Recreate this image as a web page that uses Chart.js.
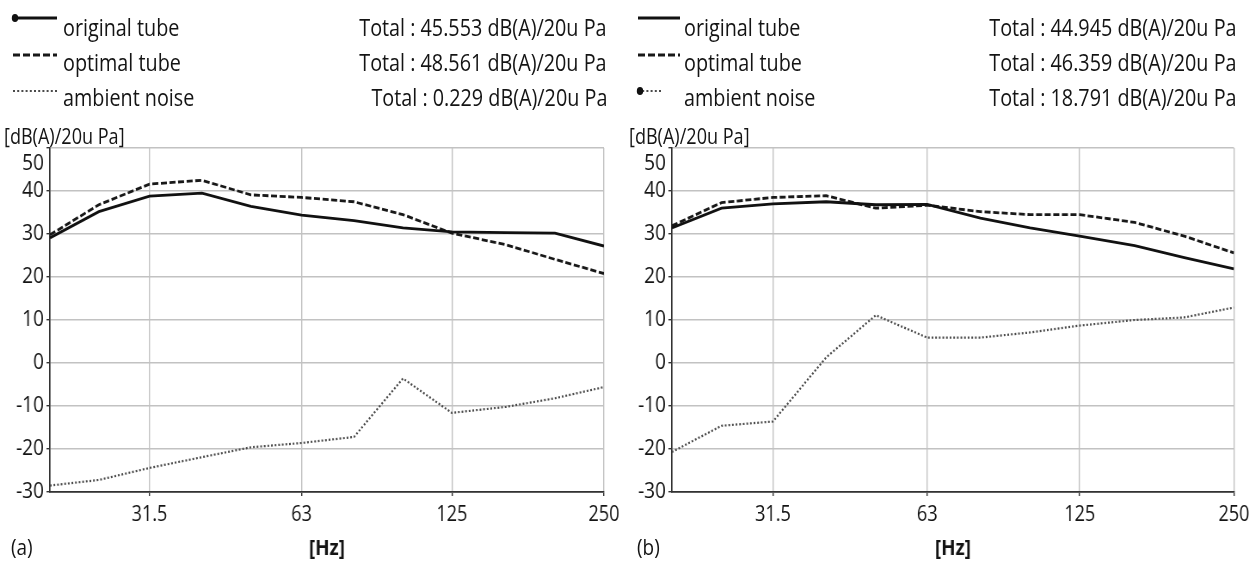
<!DOCTYPE html>
<html>
<head>
<meta charset="utf-8">
<script src="https://cdn.jsdelivr.net/npm/chart.js@4.4.1/dist/chart.umd.min.js"></script>
<style>
  body { margin: 0; background: #fff; }
  #page { position: relative; width: 1249px; height: 562px; overflow: hidden; font-family: "Open Sans", sans-serif; color: #141414; }
  canvas { position: absolute; top: 0; }
  /* the original figure is squeezed horizontally, so the text is too */
  .t { position: absolute; line-height: 28px; white-space: nowrap; transform: scaleX(0.86); transform-origin: left center; }
  .t.r { transform-origin: right center; }
  svg { position: absolute; overflow: visible; }
</style>
</head>
<body>
<div id="page">
  <!-- canvases are drawn wider than shown, the browser squeezes them by ~0.86 -->
  <canvas id="chartA" width="723" height="562" style="left:0;width:622px;height:562px"></canvas>
  <canvas id="chartB" width="729" height="562" style="left:622px;width:627px;height:562px"></canvas>
</div>
<script>
// 1/3 octave band centres [Hz]
const freqHz = [20, 25, 31.5, 40, 50, 63, 80, 100, 125, 160, 200, 250];
const xTickValues = [31.5, 63, 125, 250];
const xTickLabels = ['31.5', '63', '125', '250'];

const seriesNames = ['original tube', 'optimal tube', 'ambient noise'];
const totalsA = ['45.553', '48.561', '0.229'];
const totalsB = ['44.945', '46.359', '18.791'];
const unitText = 'dB(A)/20u Pa';

// panel (a)
const origA = [29.1, 35.2, 38.8, 39.5, 36.4, 34.4, 33.1, 31.4, 30.5, 30.3, 30.2, 27.2];
const optA  = [29.8, 36.8, 41.6, 42.5, 39.1, 38.5, 37.5, 34.5, 30.2, 27.5, 24.1, 20.8];
const ambA  = [-28.5, -27.2, -24.4, -21.9, -19.6, -18.6, -17.2, -3.6, -11.6, -10.2, -8.2, -5.6];

// panel (b)
const origB = [31.4, 36.0, 37.0, 37.5, 36.8, 36.9, 33.7, 31.4, 29.5, 27.3, 24.5, 21.9];
const optB  = [31.9, 37.3, 38.5, 38.9, 36.0, 36.7, 35.2, 34.5, 34.5, 32.7, 29.5, 25.6];
const ambB  = [-20.7, -14.6, -13.6, 1.3, 11.1, 5.9, 5.9, 7.1, 8.7, 10.0, 10.6, 12.9];

const lineStyles = [
  { color: '#111111', width: 2.8, dash: [] },
  { color: '#181818', width: 2.8, dash: [7, 3] },
  { color: '#4a4a4a', width: 2.2, dash: [2, 2.2] }
];

Chart.defaults.font.family = '"Open Sans", sans-serif';
Chart.defaults.color = '#141414';

function toPoints(vals) {
  return freqHz.map((f, i) => ({ x: f, y: vals[i] }));
}

// the top tick label sits inside the plot, below the 50 line
const topTickLabel = {
  id: 'topTickLabel',
  afterDraw(chart) {
    const y = chart.scales.y;
    const c = chart.ctx;
    c.save();
    c.font = '22px "Open Sans", sans-serif';
    c.fillStyle = '#141414';
    c.textAlign = 'right';
    c.textBaseline = 'middle';
    c.fillText(String(y.max), y.right - 7, y.getPixelForValue(y.max) + 16);
    c.restore();
  }
};

function renderPanel(canvasId, series, padRight) {
  var ctx = document.getElementById(canvasId).getContext('2d');
  return new Chart(ctx, {
    type: 'line',
    data: {
      datasets: series.map((vals, i) => ({
        label: seriesNames[i],
        data: toPoints(vals),
        borderColor: lineStyles[i].color,
        borderWidth: lineStyles[i].width,
        borderDash: lineStyles[i].dash,
        pointRadius: 0,
        tension: 0,
        fill: false
      }))
    },
    plugins: [topTickLabel],
    options: {
      responsive: false,
      animation: false,
      devicePixelRatio: 1,
      layout: { padding: { top: 148, right: padRight, bottom: 0, left: 0 } },
      plugins: { legend: { display: false }, tooltip: { enabled: false } },
      scales: {
        x: {
          type: 'logarithmic',
          min: 20,
          max: 250,
          afterBuildTicks: function (scale) {
            scale.ticks = xTickValues.map(v => ({ value: v }));
          },
          afterFit: function (scale) {
            scale.height = 70;
            scale.paddingLeft = 0;
            scale.paddingRight = 0;
          },
          ticks: {
            autoSkip: false,
            maxRotation: 0,
            padding: 6,
            font: { size: 21 },
            callback: function (value, index) { return xTickLabels[index]; }
          },
          grid: { color: '#c2c2c2', lineWidth: 1.4, tickColor: '#333', tickLength: 4 },
          border: { color: '#333', width: 1.7 },
          title: {
            display: true,
            text: '[Hz]',
            font: { size: 22, weight: 'bold' },
            padding: { top: 0, bottom: 0 }
          }
        },
        y: {
          min: -30,
          max: 50,
          afterFit: function (scale) {
            scale.width = 58;
            scale.paddingTop = 0;
            scale.paddingBottom = 0;
          },
          ticks: {
            stepSize: 10,
            padding: 3,
            font: { size: 22 },
            callback: function (value) { return value === 50 ? '' : String(value); }
          },
          grid: { color: '#c2c2c2', lineWidth: 1.4, tickColor: '#333', tickLength: 4 },
          border: { color: '#333', width: 1.7 }
        }
      }
    }
  });
}

// legend rows, totals and captions as html text
const page = document.getElementById('page');
function addText(str, x, baseline, size, alignRight) {
  var d = document.createElement('div');
  d.className = alignRight ? 't r' : 't';
  d.textContent = str;
  d.style.fontSize = size + 'px';
  d.style.top = (baseline - (14 + 0.388 * size)) + 'px';
  if (alignRight) { d.style.right = (1249 - x) + 'px'; } else { d.style.left = x + 'px'; }
  page.appendChild(d);
}
function addSample(i, x1, x2, y, dot) {
  var s = lineStyles[i];
  var svg = '<svg style="left:0;top:0" width="1" height="1">' +
    '<line x1="' + x1 + '" y1="' + y + '" x2="' + x2 + '" y2="' + y + '" stroke="' + s.color +
    '" stroke-width="' + s.width + '" stroke-dasharray="' + (s.dash.join(' ') || 'none') + '"/>' +
    (dot ? '<ellipse cx="' + (x1 + 2) + '" cy="' + y + '" rx="3.2" ry="4" fill="#111"/>' : '') + '</svg>';
  page.insertAdjacentHTML('beforeend', svg);
}

const rowLineY = [18, 55, 91];
const rowBase = [36, 71, 106];

function addLegend(offsetX, sampleEnd, textLeft, totals, totalsRight, dotRow, shortRow) {
  for (var i = 0; i < 3; i++) {
    var end = (i === shortRow) ? offsetX + 38 : sampleEnd;
    addSample(i, offsetX + 13, end, rowLineY[i], i === dotRow);
    addText(seriesNames[i], textLeft, rowBase[i], 23, false);
    addText('Total : ' + totals[i] + ' ' + unitText, totalsRight, rowBase[i], 23, true);
  }
  addText('[' + unitText + ']', offsetX + 4, 144, 21, false);
}

addLegend(0, 57, 63, totalsA, 607, 0, -1);
addLegend(625, 680, 684, totalsB, 1237, 2, 2);
addText('(a)', 11, 555, 22, false);
addText('(b)', 637, 555, 22, false);

renderPanel('chartA', [origA, optA, ambA], 21);
renderPanel('chartB', [origB, optB, ambB], 17.5);
</script>
</body>
</html>
